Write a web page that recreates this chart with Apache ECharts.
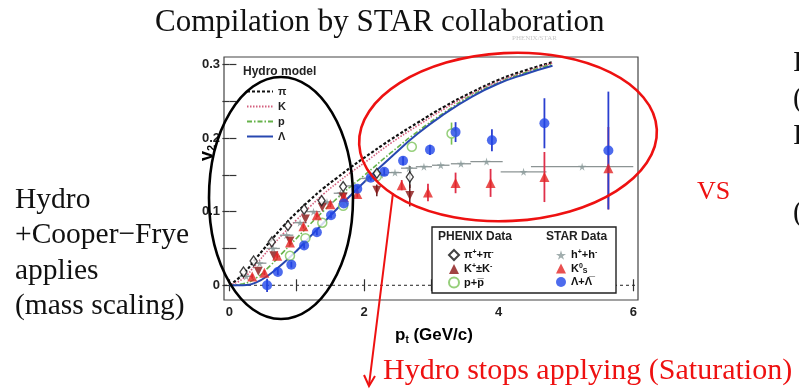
<!DOCTYPE html>
<html><head><meta charset="utf-8">
<script src="https://cdn.jsdelivr.net/npm/echarts@6/dist/echarts.min.js"></script>
<style>html,body{margin:0;padding:0;background:#fff}#c{width:799px;height:390px}</style>
</head><body><div id="c"></div>
<script>
// ---- data ----
const hydroPi = [[0,0],[0.2,0.015],[0.4,0.037],[0.6,0.059],[0.8,0.08],[1.0,0.099],[1.2,0.116],[1.4,0.132],[1.6,0.146],[1.8,0.16],[2.0,0.173],[2.4,0.198],[2.8,0.221],[3.2,0.243],[3.6,0.262],[4.0,0.279],[4.4,0.292],[4.8,0.303]];
const hydroK = [[0,0],[0.2,0.009],[0.4,0.029],[0.6,0.05],[0.8,0.07],[1.0,0.089],[1.2,0.107],[1.4,0.124],[1.6,0.139],[1.8,0.153],[2.0,0.166],[2.4,0.193],[2.8,0.217],[3.2,0.24],[3.6,0.26],[4.0,0.277],[4.4,0.29],[4.8,0.302]];
const hydroP = [[0,0],[0.2,0.002],[0.4,0.01],[0.6,0.026],[0.8,0.045],[1.0,0.064],[1.2,0.083],[1.4,0.101],[1.6,0.118],[1.8,0.134],[2.0,0.149],[2.4,0.18],[2.8,0.209],[3.2,0.235],[3.6,0.258],[4.0,0.275],[4.4,0.289],[4.8,0.3]];
const hydroLambda = [[0,0],[0.2,0],[0.4,0.004],[0.6,0.015],[0.8,0.03],[1.0,0.047],[1.2,0.066],[1.4,0.085],[1.6,0.104],[1.8,0.122],[2.0,0.14],[2.4,0.174],[2.8,0.206],[3.2,0.233],[3.6,0.256],[4.0,0.274],[4.4,0.287],[4.8,0.298]];

const phenixPi = [[0.21,0.018],[0.36,0.033],[0.63,0.059],[0.87,0.081],[1.11,0.103],[1.37,0.115],[1.69,0.134],[2.19,0.152],[2.68,0.147]];
const phenixPiErr = [[2.68,0.147,0.015]];
const phenixK = [[0.43,0.019],[0.66,0.04],[0.9,0.06],[1.13,0.09],[1.38,0.106],[1.69,0.12],[2.19,0.129],[2.68,0.122]];
const phenixKErr = [[2.19,0.129,0.008],[2.68,0.122,0.015]];
const phenixP = [[0.9,0.04],[1.13,0.064],[1.38,0.085],[1.69,0.108],[2.19,0.148],[2.71,0.188],[3.3,0.206]];
const phenixPErr = [[3.3,0.206,0.015]];

const starH = [[0.25,0.012],[0.45,0.03],[0.65,0.05],[0.85,0.068],[1.05,0.085],[1.25,0.1],[1.45,0.113],[1.65,0.125],[1.85,0.135],[2.05,0.145],[2.25,0.15],[2.46,0.153],[2.67,0.159],[2.89,0.161],[3.14,0.163],[3.44,0.165],[3.82,0.168],[4.37,0.154],[5.24,0.161]];
const starHxErr = [0.1,0.1,0.1,0.1,0.1,0.1,0.1,0.1,0.1,0.1,0.1,0.1,0.12,0.12,0.13,0.15,0.24,0.34,0.76];
const starK0s = [[0.34,0.012],[0.52,0.017],[0.71,0.04],[0.9,0.058],[1.1,0.08],[1.3,0.095],[1.5,0.11],[1.7,0.12],[1.9,0.124],[2.56,0.136],[2.95,0.126],[3.36,0.139],[3.88,0.139],[4.68,0.147],[5.63,0.159]];
const starK0sErr = [0.003,0.003,0.003,0.003,0.003,0.003,0.004,0.004,0.005,0.007,0.012,0.014,0.019,0.034,0.056];
const starLambda = [[0.56,0.0],[0.72,0.018],[0.92,0.028],[1.11,0.054],[1.3,0.072],[1.51,0.095],[1.7,0.111],[1.9,0.131],[2.1,0.146],[2.3,0.154],[2.58,0.169],[2.98,0.184],[3.36,0.208],[3.9,0.197],[4.68,0.22],[5.63,0.183]];
const starLambdaErr = [0.009,0.004,0.004,0.004,0.004,0.004,0.004,0.004,0.004,0.005,0.006,0.007,0.0135,0.015,0.034,0.08];

const xTickLabels = [0,2,4,6];
const xTicks = [0,1,2,3,4,5,6];
const yTickLabels = [0,0.1,0.2,0.3];
const yTicks = [0,0.05,0.1,0.15,0.2,0.25,0.3];

// ---- helpers ----
const SANS = 'Liberation Sans, Arial, sans-serif';
const SERIF = 'Liberation Serif, Times New Roman, serif';
const STAR_PATH = 'path://M50,0 L61,35 L98,35 L68,57 L79,91 L50,70 L21,91 L32,57 L2,35 L39,35 Z';
const NONE = 'rgba(0,0,0,0)';

function errSeries(data, color, horiz, width) {
  return {
    type: 'custom', silent: true, z: 3,
    data: data,
    encode: {x: 0, y: 1},
    renderItem: function (params, api) {
      const x = api.value(0), y = api.value(1), e = api.value(2);
      let p1, p2;
      if (horiz) { p1 = api.coord([x - e, y]); p2 = api.coord([x + e, y]); }
      else { p1 = api.coord([x, y - e]); p2 = api.coord([x, y + e]); }
      return {type: 'line', shape: {x1: p1[0], y1: p1[1], x2: p2[0], y2: p2[1]},
              style: {stroke: color, lineWidth: width || 1.6}};
    }
  };
}

const names = {
  pi: 'π+π-', K: 'K+±K-', p: 'p+pbar', h: 'h+h-', k0: 'K0s', lam: 'Λ+Λbar'
};
const legendRich = {
  n: {fontFamily: SANS, fontWeight: 'bold', fontSize: 11, color: '#111', lineHeight: 12},
  sup: {fontFamily: SANS, fontWeight: 'bold', fontSize: 7, color: '#111', padding: [0, 0, 5, 0]},
  sub: {fontFamily: SANS, fontWeight: 'bold', fontSize: 7, color: '#111', padding: [5, 0, 0, 0]}
};
function legendFmt(name) {
  switch (name) {
    case names.pi: return '{n|π}{sup|+}{n|+π}{sup|-}';
    case names.K: return '{n|K}{sup|+}{n|±K}{sup|-}';
    case names.p: return '{n|p+p\u0305}';
    case names.h: return '{n|h}{sup|+}{n|+h}{sup|-}';
    case names.k0: return '{n|K}{sup|0}{sub|S}';
    case names.lam: return '{n|Λ+Λ\u0305}';
  }
  return '{n|' + name + '}';
}

const chart = echarts.init(document.getElementById('c'), null, {renderer: 'canvas'});
const option = {
  animation: false,
  backgroundColor: '#fff',
  grid: {left: 224, top: 57, width: 414, height: 243, show: true, borderColor: '#444', borderWidth: 1.2, backgroundColor: 'transparent'},
  xAxis: [
    {type: 'value', min: -0.08, max: 6.07, position: 'bottom',
     axisLine: {show: false}, splitLine: {show: false},
     axisTick: {inside: true, length: 6, customValues: xTicks, lineStyle: {color: '#333', width: 1.2}},
     axisLabel: {customValues: xTickLabels, fontFamily: SANS, fontWeight: 'bold', fontSize: 13, color: '#222', margin: 6}},
    {type: 'value', min: -0.08, max: 6.07, position: 'top',
     axisLine: {show: false}, splitLine: {show: false},
     axisTick: {inside: true, length: 6, customValues: xTicks, lineStyle: {color: '#333', width: 1.2}},
     axisLabel: {show: false}}
  ],
  yAxis: [
    {type: 'value', min: -0.02, max: 0.31, position: 'left',
     axisLine: {show: false}, splitLine: {show: false},
     axisTick: {inside: true, length: 7, customValues: yTicks, lineStyle: {color: '#333', width: 1.2}},
     axisLabel: {customValues: yTickLabels, fontFamily: SANS, fontWeight: 'bold', fontSize: 13, color: '#222', margin: 4,
       formatter: v => v === 0 ? '0' : v.toFixed(1)}},
    {type: 'value', min: -0.02, max: 0.31, position: 'right',
     axisLine: {show: false}, splitLine: {show: false},
     axisTick: {inside: true, length: 7, customValues: yTicks, lineStyle: {color: '#333', width: 1.2}},
     axisLabel: {show: false}}
  ],
  legend: [
    {left: 241, top: 80, orient: 'vertical', itemWidth: 26, itemHeight: 8, itemGap: 2, selectedMode: false, z: 60,
     data: ['π', 'K', 'p', 'Λ'], itemStyle: {opacity: 0},
     textStyle: {fontFamily: SANS, fontWeight: 'bold', fontSize: 11, color: '#222', lineHeight: 13}},
    {left: 443, top: 244, orient: 'vertical', itemWidth: 10, itemHeight: 10, itemGap: 2, selectedMode: false, z: 60,
     data: [names.pi, names.K, names.p], formatter: legendFmt, textStyle: {rich: legendRich}},
    {left: 551, top: 244, orient: 'vertical', itemWidth: 10, itemHeight: 10, itemGap: 2, selectedMode: false, z: 60,
     data: [names.h, names.k0, names.lam], formatter: legendFmt, textStyle: {rich: legendRich}}
  ],
  series: [
    {type: 'line', name: 'zero', data: [[-0.08, 0], [6.07, 0]], symbol: 'none', silent: true, z: 1,
     lineStyle: {color: '#222', width: 1, type: [3, 3]}},
    {type: 'line', name: 'π', data: hydroPi, smooth: true, symbol: 'none', z: 2,
     lineStyle: {color: '#111', width: 2.2, type: [3, 2]}, itemStyle: {color: NONE}},
    {type: 'line', name: 'K', data: hydroK, smooth: true, symbol: 'none', z: 2,
     lineStyle: {color: '#d4607f', width: 1.6, type: [1.5, 1.5]}, itemStyle: {color: NONE}},
    {type: 'line', name: 'p', data: hydroP, smooth: true, symbol: 'none', z: 2,
     lineStyle: {color: '#66b24a', width: 1.6, type: [5, 2, 1.5, 2]}, itemStyle: {color: NONE}},
    {type: 'line', name: 'Λ', data: hydroLambda, smooth: true, symbol: 'none', z: 2,
     lineStyle: {color: '#2848b0', width: 2}, itemStyle: {color: NONE}},
    errSeries(starH.map((d, i) => [d[0], d[1], starHxErr[i]]), '#8c9494', true, 1.3),
    errSeries(starK0s.map((d, i) => [d[0], d[1], starK0sErr[i]]), '#e0304a', false, 1.8),
    errSeries(starLambda.map((d, i) => [d[0], d[1], starLambdaErr[i]]), '#2a3fd0', false, 1.8),
    errSeries(phenixPiErr, '#222', false, 1.4),
    errSeries(phenixKErr, '#5a1010', false, 1.4),
    errSeries(phenixPErr, '#78c050', false, 1.6),
    {type: 'scatter', name: names.h, data: starH, symbol: STAR_PATH, symbolSize: 8, z: 4,
     itemStyle: {color: '#8a9a9a'}},
    {type: 'scatter', name: names.p, data: phenixP, symbol: 'circle', symbolSize: 9, z: 4,
     itemStyle: {color: '#fff', borderColor: '#7cc35a', borderWidth: 1.5}},
    {type: 'scatter', name: names.K, data: phenixK, symbol: 'triangle', symbolRotate: 180, symbolSize: 9, z: 5,
     itemStyle: {color: '#8a1414'}},
    {type: 'scatter', name: names.k0, data: starK0s, symbol: 'triangle', symbolSize: 10, z: 5,
     itemStyle: {color: '#e42424'}},
    {type: 'scatter', name: names.lam, data: starLambda, symbol: 'circle', symbolSize: 10, z: 5,
     itemStyle: {color: '#2046e8'}},
    {type: 'scatter', name: names.pi, data: phenixPi, symbol: 'diamond', symbolSize: [7, 10], z: 6,
     itemStyle: {color: '#fff', borderColor: '#111', borderWidth: 1.4}}
  ],
  graphic: [
    {type: 'text', left: 155, top: 7, z: 50, style: {text: 'Compilation by STAR collaboration', fontFamily: SERIF, fontSize: 31, fill: '#111'}},
    {type: 'text', left: 512, top: 35, z: 50, style: {text: 'PHENIX/STAR', fontFamily: SERIF, fontSize: 7, fill: '#c8c8c8'}},
    {type: 'text', left: 15, top: 182, z: 50, style: {text: 'Hydro\n+Cooper\u2212Frye\napplies\n(mass scaling)', fontFamily: SERIF, fontSize: 29.5, lineHeight: 35.5, fill: '#111'}},
    {type: 'text', left: 697, top: 179, z: 50, style: {text: 'VS', fontFamily: SERIF, fontSize: 26, fill: '#ee1111'}},
    {type: 'text', left: 793, top: 45, z: 50, style: {text: 'I\n(\nI', fontFamily: SERIF, fontSize: 29, lineHeight: 36.5, fill: '#111'}},
    {type: 'text', left: 793, top: 199, z: 50, style: {text: '(', fontFamily: SERIF, fontSize: 29, fill: '#111'}},
    {type: 'text', left: 243, top: 66, z: 60, style: {text: 'Hydro model', fontFamily: SANS, fontWeight: 'bold', fontSize: 12, fill: '#222'}},
    {type: 'rect', z: 55, shape: {x: 432, y: 227, width: 184, height: 66}, style: {fill: '#fff', stroke: '#222', lineWidth: 1.4}},
    {type: 'text', left: 438, top: 231, z: 60, style: {text: 'PHENIX Data', fontFamily: SANS, fontWeight: 'bold', fontSize: 12, fill: '#222'}},
    {type: 'text', left: 546, top: 231, z: 60, style: {text: 'STAR Data', fontFamily: SANS, fontWeight: 'bold', fontSize: 12, fill: '#222'}},
    {type: 'text', x: 198, y: 161, rotation: Math.PI / 2, z: 60,
     style: {text: '{v|v}{s|2}', rich: {v: {fontFamily: SANS, fontWeight: 'bold', fontSize: 18, color: '#222'}, s: {fontFamily: SANS, fontWeight: 'bold', fontSize: 11, color: '#222', padding: [8, 0, 0, 0]}}}},
    {type: 'text', left: 395, top: 327, z: 60,
     style: {text: '{v|p}{s|t}{v| (GeV/c)}', rich: {v: {fontFamily: SANS, fontWeight: 'bold', fontSize: 17, color: '#222'}, s: {fontFamily: SANS, fontWeight: 'bold', fontSize: 10, color: '#222', padding: [9, 0, 0, 0]}}}},
    {type: 'ellipse', z: 100, shape: {cx: 281, cy: 198, rx: 72, ry: 121}, style: {fill: 'none', stroke: '#000', lineWidth: 2.6}},
    {type: 'ellipse', z: 100, x: 508, y: 137, rotation: 0.05, shape: {cx: 0, cy: 0, rx: 149, ry: 84}, style: {fill: 'none', stroke: '#ee1111', lineWidth: 2.6}},
    {type: 'polyline', z: 100, shape: {points: [[393, 193], [369, 385]]}, style: {stroke: '#ee1111', lineWidth: 2, fill: 'none'}},
    {type: 'polyline', z: 100, shape: {points: [[364, 375], [369, 386], [375, 376]]}, style: {stroke: '#ee1111', lineWidth: 2, fill: 'none'}},
    {type: 'text', left: 383, top: 356, z: 60, style: {text: 'Hydro stops applying (Saturation)', fontFamily: SERIF, fontSize: 30, fill: '#ee1111'}}
  ]
};
chart.setOption(option);
</script></body></html>
